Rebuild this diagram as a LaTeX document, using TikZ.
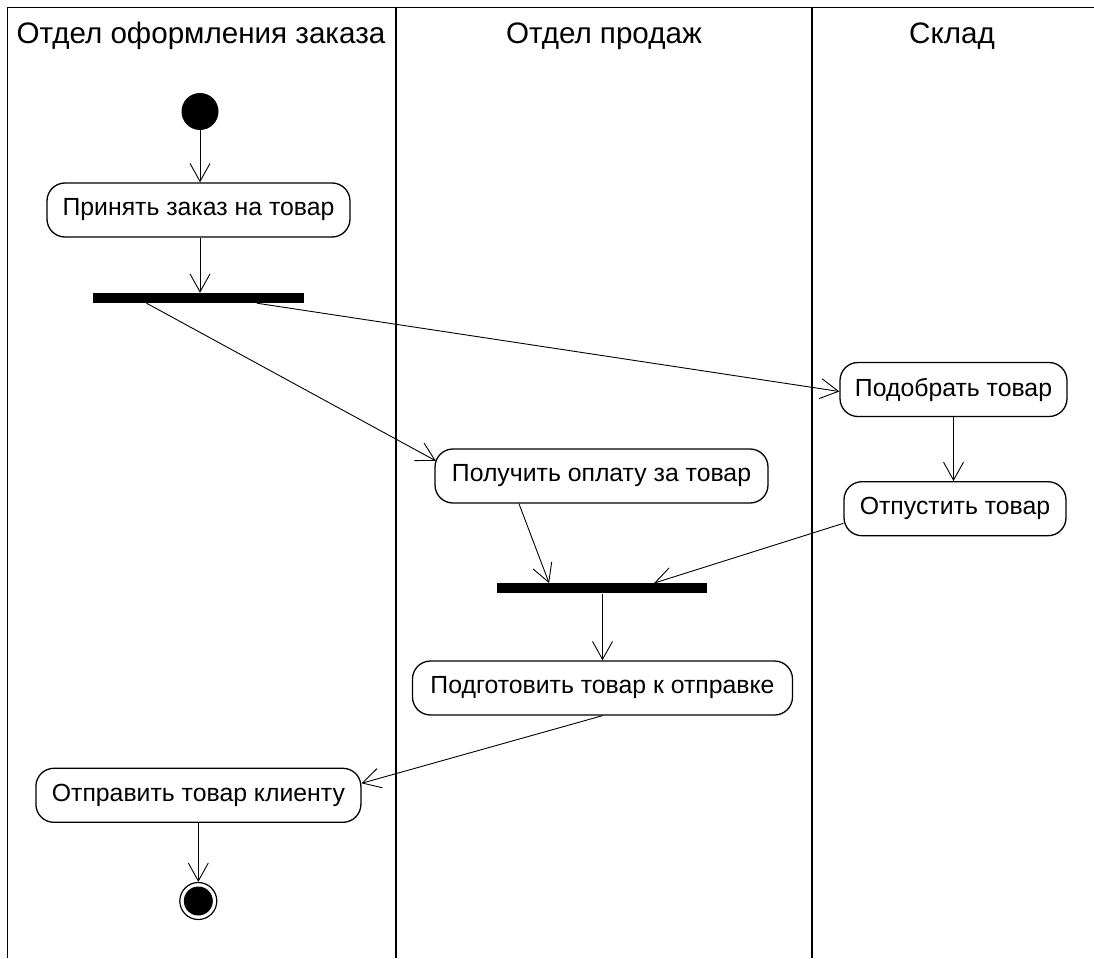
\documentclass[tikz,border=0pt]{standalone}
\usepackage{fontspec}
\setmainfont{Liberation Sans}
\usetikzlibrary{arrows.meta,calc}
\tikzset{
  lane/.style={line width=1.6pt},
  header/.style={font=\fontsize{29.6}{34}\selectfont, anchor=center},
  act/.style={draw, line width=1.3pt, rounded corners=18pt, fill=white,
              font=\fontsize{24.8}{28}\selectfont, inner sep=0pt, minimum height=54pt},
  bar/.style={fill=black, inner sep=0pt, minimum width=211pt, minimum height=10pt},
  startnode/.style={circle, fill=black, inner sep=0pt, minimum size=37pt},
  endnode/.style={circle, draw, line width=1.2pt, fill=white, inner sep=0pt, minimum size=37pt,
                  path picture={\fill[black] (path picture bounding box.center) circle (14.5pt);}},
  flow/.style={line width=0.9pt, -{Straight Barb[length=18pt,width=20pt,line width=0.9pt]}}
}
\begin{document}
\begin{tikzpicture}[x=1pt,y=-1pt]
\useasboundingbox (0,0) rectangle (1094,958);
% swimlanes
\draw[lane] (7.5,958) -- (7.5,7.5) -- (1094,7.5);
\draw[lane] (396,7.5) -- (396,958);
\draw[lane] (812,7.5) -- (812,958);
\node[header] (h1) at (201,36) {Отдел оформления заказа};
\node[header] (h2) at (604,36) {Отдел продаж};
\node[header] (h3) at (952,36) {Склад};
% nodes
\node[startnode] (start) at (200,111.5) {};
\node[act, minimum width=303pt] (a1) at (198.5,210) {Принять заказ на товар};
\node[bar] (b1) at (198.5,298) {};
\node[act, minimum width=227pt] (a3) at (953.5,389.5) {Подобрать товар};
\node[act, minimum width=333pt] (a2) at (601.5,476) {Получить оплату за товар};
\node[act, minimum width=222pt] (a4) at (955,508.7) {Отпустить товар};
\node[bar, minimum width=210pt] (b2) at (601.7,588.3) {};
\node[act, minimum width=380pt] (a5) at (602.5,688) {Подготовить товар к отправке};
\node[act, minimum width=325pt] (a6) at (198.4,795.3) {Отправить товар клиенту};
\node[endnode] (end) at (198.3,901) {};
% connectors
\draw[flow] (start) -- (start |- a1.north);
\draw[flow] (a1.south -| start) -- (b1.north -| start);
\draw[flow] ($(b1.south west)!0.254!(b1.south east)$) -- ($(a2.north west)+(1.5,12.5)$);
\draw[flow] ($(b1.south west)!0.776!(b1.south east)$) -- ($(a3.west)+(0,2)$);
\draw[flow] (a3.south) -- (a3.south |- a4.north);
\draw[flow] ($(a2.south west)!0.253!(a2.south east)$) -- ($(b2.north west)!0.25!(b2.north east)$);
\draw[flow] ($(a4.south west)+(0,-13)$) -- ($(b2.north west)!0.749!(b2.north east)$);
\draw[flow] (b2.south -| a5.north) -- (a5.north);
\draw[flow] (a5.south) -- ($(a6.east)+(0,-12)$);
\draw[flow] (a6.south -| end) -- (end.north);
\end{tikzpicture}
\end{document}
